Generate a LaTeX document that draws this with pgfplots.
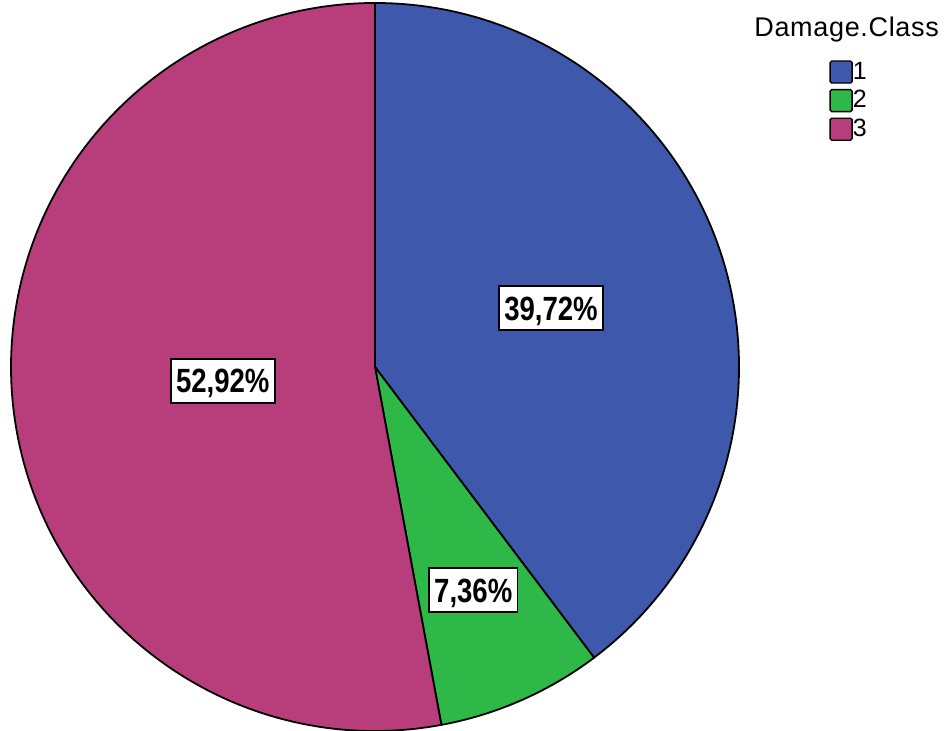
\documentclass[border=0pt]{standalone}
\usepackage{pgfplots}
\pgfplotsset{compat=1.18}
\usepackage{pgfplotstable}
\usepackage{fontspec}
\setmainfont{Liberation Sans}
\newfontfamily\labelfont[FakeStretch=0.82]{Liberation Sans}

\definecolor{cOne}{RGB}{62,88,172}
\definecolor{cTwo}{RGB}{46,184,72}
\definecolor{cThree}{RGB}{184,62,123}

% share of each damage class, and where its label sits (fraction of radius)
\pgfplotstableread{
class pct frac
1 39.72 0.51
2 7.36 0.67
3 52.92 0.42
}\piedata

\pgfplotstablegetelem{0}{pct}\of\piedata \let\pA\pgfplotsretval
\pgfplotstablegetelem{1}{pct}\of\piedata \let\pB\pgfplotsretval
\pgfplotstablegetelem{2}{pct}\of\piedata \let\pC\pgfplotsretval
\pgfplotstablegetelem{0}{frac}\of\piedata \let\fA\pgfplotsretval
\pgfplotstablegetelem{1}{frac}\of\piedata \let\fB\pgfplotsretval
\pgfplotstablegetelem{2}{frac}\of\piedata \let\fC\pgfplotsretval

% slices run clockwise from 12 o'clock
\pgfmathsetmacro\aA{90}
\pgfmathsetmacro\aB{\aA-3.6*\pA}
\pgfmathsetmacro\aC{\aB-3.6*\pB}
\pgfmathsetmacro\aD{\aC-3.6*\pC}
\pgfmathsetmacro\mA{(\aA+\aB)/2}
\pgfmathsetmacro\mB{(\aB+\aC)/2}
\pgfmathsetmacro\mC{(\aC+\aD)/2}
\def\rad{182}

\tikzset{
  lbl/.style={draw=black, fill=white, line width=0.9pt, inner xsep=2.6pt,
    inner ysep=0pt, minimum height=22pt, text height=12pt, text depth=0pt,
    font=\labelfont\bfseries\fontsize{16.8}{18}\selectfont},
  slice/.style={draw=black, line width=0.9pt, line join=round},
}
\newcommand\pct[1]{\pgfmathprintnumber[assume math mode=true,fixed,fixed zerofill,precision=2,use comma]{#1}\%}

\begin{document}
\begin{tikzpicture}
\begin{axis}[
    width=472pt, height=365.5pt,
    scale only axis,
    xmin=0, xmax=944, ymin=0, ymax=731,
    hide axis, clip=false,
    legend style={at={(0.8782,0.918)}, anchor=north west,
      draw=none, fill=none, inner sep=0pt,
      font=\fontsize{12.5}{12.5}\selectfont, row sep=2.6pt,
      nodes={inner sep=0pt},
      /tikz/every even column/.append style={column sep=2pt}},
    legend cell align=left,
    legend image code/.code={\draw[#1, line width=0.7pt, rounded corners=0.8pt]
      (0pt,-5.5pt) rectangle (11pt,5.5pt);},
  ]
  \coordinate (sw) at (axis cs:0,0);
  \coordinate (ne) at (axis cs:944,731);
  \coordinate (c) at (axis cs:375,364);

  \filldraw[slice, fill=cOne] (c) -- ++(\aA:\rad pt)
    arc[start angle=\aA, end angle=\aB, radius=\rad pt] -- cycle;
  \filldraw[slice, fill=cTwo] (c) -- ++(\aB:\rad pt)
    arc[start angle=\aB, end angle=\aC, radius=\rad pt] -- cycle;
  \filldraw[slice, fill=cThree] (c) -- ++(\aC:\rad pt)
    arc[start angle=\aC, end angle=\aD, radius=\rad pt] -- cycle;

  \path (c) ++(\mA:{\fA*\rad pt}) node[lbl] {\pct{\pA}};
  \path (c) ++(\mB:{\fB*\rad pt}) node[lbl] {\pct{\pB}};
  \path (c) ++(\mC:{\fC*\rad pt}) node[lbl] {\pct{\pC}};

  \node[anchor=base west, inner sep=0pt, font=\fontsize{13.5}{14}\selectfont]
    at (axis cs:754,694) {\addfontfeature{LetterSpace=2.5}Damage.Class};

  \addlegendimage{fill=cOne, draw=black}
  \addlegendentry{1}
  \addlegendimage{fill=cTwo, draw=black}
  \addlegendentry{2}
  \addlegendimage{fill=cThree, draw=black}
  \addlegendentry{3}
\end{axis}
\pgfresetboundingbox
\path (sw) rectangle (ne);
\end{tikzpicture}
\end{document}
